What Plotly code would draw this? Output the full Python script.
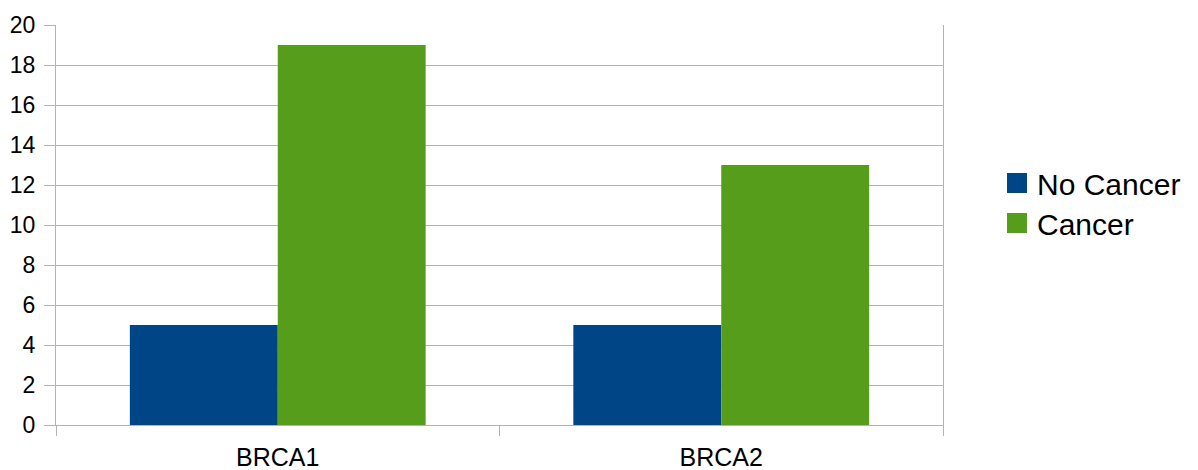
import plotly.graph_objects as go

categories = ["BRCA1", "BRCA2"]
no_cancer = [5, 5]
cancer = [19, 13]
series_names = ["No Cancer", "Cancer"]
colors = ["#004586", "#579d1c"]

W, H = 1198, 470
L, R, T, B = 56, 943, 25, 425

fig = go.Figure()
fig.add_trace(go.Bar(x=categories, y=no_cancer, name=series_names[0],
                     marker=dict(color=colors[0], line=dict(width=0)), showlegend=False))
fig.add_trace(go.Bar(x=categories, y=cancer, name=series_names[1],
                     marker=dict(color=colors[1], line=dict(width=0)), showlegend=False))

def px(x):
    return (x - L) / (R - L)

def py(y):
    return (B - y) / (B - T)

# manual legend
legend_rows = [183, 223]
for name, col, cy in zip(series_names, colors, legend_rows):
    fig.add_shape(type="rect", xref="paper", yref="paper",
                  x0=px(1007), x1=px(1027), y0=py(cy + 10), y1=py(cy - 10),
                  fillcolor=col, line=dict(width=0))
    fig.add_annotation(xref="paper", yref="paper", x=px(1035), y=py(cy + 1),
                       text=name, showarrow=False, xanchor="left", yanchor="middle",
                       font=dict(family="Liberation Sans, Arial, sans-serif", size=30, color="#000000"))

grid = "#b3b3b3"
fig.update_layout(
    width=W, height=H,
    margin=dict(l=L, r=W - R, t=T, b=H - B, autoexpand=False),
    paper_bgcolor="white", plot_bgcolor="white",
    barmode="group", bargap=0.333, bargroupgap=0,
    font=dict(family="Liberation Sans, Arial, sans-serif", size=23, color="#000000"),
    showlegend=False,
    xaxis=dict(type="category", tickson="boundaries", ticks="outside", ticklen=10,
               tickcolor=grid, tickwidth=1, showline=True, linecolor=grid, linewidth=1,
               mirror=False, showgrid=False, ticklabelstandoff=10, automargin=False,
               tickfont=dict(size=25)),
    yaxis=dict(range=[0, 20], dtick=2, ticks="outside", ticklen=11, tickcolor=grid,
               tickwidth=1, showgrid=True, gridcolor=grid, gridwidth=1,
               showline=True, linecolor=grid, linewidth=1, mirror=True, automargin=False,
               zeroline=False, ticklabelstandoff=4, tickfont=dict(size=23)),
)

fig.write_html("out.html")
